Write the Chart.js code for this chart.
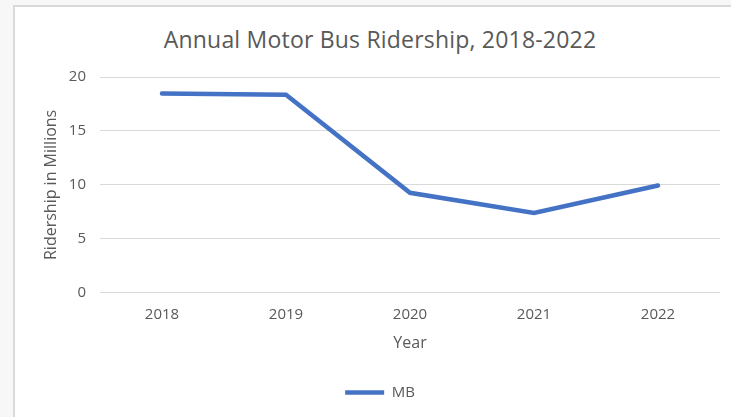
<!DOCTYPE html>
<html>
<head>
<meta charset="utf-8">
<style>
  html, body { margin: 0; padding: 0; width: 731px; height: 417px; overflow: hidden; background: #f7f7f7; }
  #frame { position: absolute; left: 13px; top: 5px; width: 760px; height: 440px; background: #fff; border-left: 2px solid #d9d9d9; border-top: 2px solid #d9d9d9; }
  #title { position: absolute; left: 80px; top: 24px; width: 600px; line-height: 30px; text-align: center; font-family: "Open Sans", sans-serif; font-size: 23px; letter-spacing: 0.2px; color: #595959; }
  #wrap { position: absolute; left: 0; top: 0; width: 731px; height: 417px; }
</style>
</head>
<body>
<div id="frame"></div>
<div id="title">Annual Motor Bus Ridership, 2018-2022</div>
<div id="wrap"><canvas id="chart" width="731" height="417"></canvas></div>

<script src="https://cdn.jsdelivr.net/npm/chart.js@4.4.0/dist/chart.umd.min.js"></script>
<script>
// data
const years = ['2018', '2019', '2020', '2021', '2022'];
const mbRidership = [18.47, 18.35, 9.27, 7.41, 9.95];
const yTicks = [0, 5, 10, 15, 20];

const textGray = '#595959';
const gridGray = '#d9d9d9';
const tickFont = { family: '"Open Sans", sans-serif', size: 15 };
const axisTitleFont = { family: '"Open Sans", sans-serif', size: 16 };

new Chart(document.getElementById('chart'), {
    type: 'line',
    data: {
        labels: years,
        datasets: [{
            label: 'MB',
            data: mbRidership,
            borderColor: '#4472C4',
            backgroundColor: '#4472C4',
            borderWidth: 4.5,
            pointRadius: 0,
            pointStyle: 'line',
            tension: 0,
            borderCapStyle: 'round'
        }]
    },
    options: {
        responsive: false,
        animation: false,
        layout: { padding: { left: 40, right: 11, top: 77, bottom: 7 } },
        plugins: {
            title: { display: false },
            tooltip: { enabled: false },
            legend: {
                position: 'bottom',
                labels: {
                    usePointStyle: true,
                    pointStyleWidth: 39,
                    color: textGray,
                    font: tickFont,
                    padding: 10
                }
            }
        },
        scales: {
            x: {
                offset: true,
                grid: { display: false, drawTicks: false },
                border: { display: false },
                ticks: { color: textGray, font: tickFont, padding: 12.5 },
                title: { display: true, text: 'Year', color: textGray, font: axisTitleFont, padding: { top: -2, bottom: 22 } }
            },
            y: {
                min: yTicks[0],
                max: yTicks[yTicks.length - 1],
                afterBuildTicks: axis => { axis.ticks = yTicks.map(v => ({ value: v })); },
                afterFit: axis => { axis.width = 60; },
                grid: { color: gridGray, lineWidth: 1, drawTicks: false },
                border: { display: false },
                ticks: { color: textGray, font: tickFont, padding: 14 },
                title: { display: true, text: 'Ridership in Millions', color: textGray, font: axisTitleFont, padding: { top: 2, bottom: 0 } }
            }
        }
    }
});
</script>
</body>
</html>
